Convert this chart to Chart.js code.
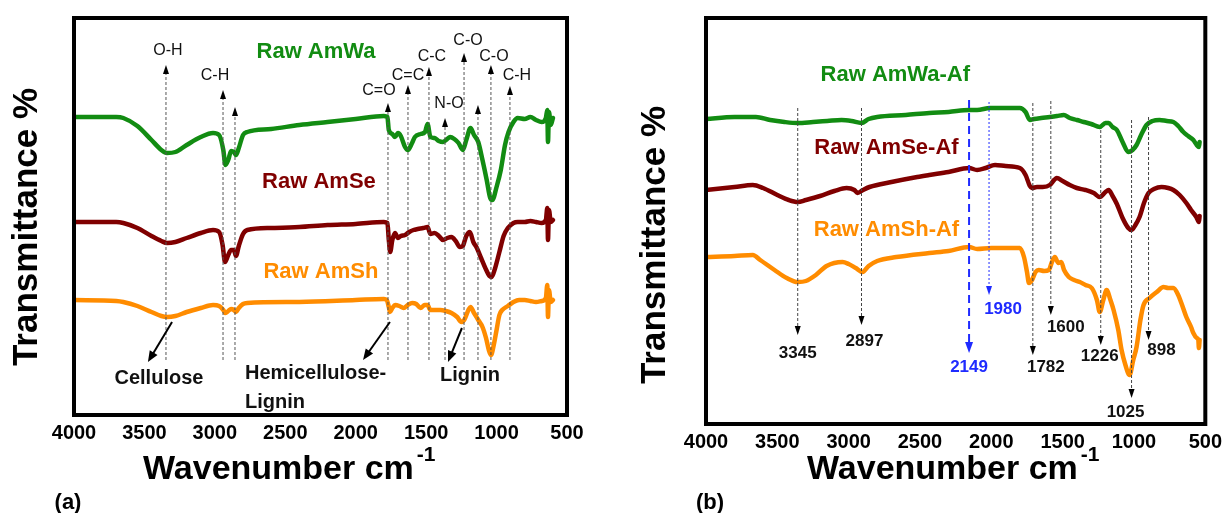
<!DOCTYPE html>
<html>
<head>
<meta charset="utf-8">
<script src="https://cdn.jsdelivr.net/npm/chart.js@4.4.0/dist/chart.umd.min.js"></script>
<style>
  body { margin: 0; background: #fff; width: 1228px; height: 513px; overflow: hidden; position: relative; }
  canvas { position: absolute; top: 0; }
  #chartA { left: 0; }
  #chartB { left: 620px; }
</style>
</head>
<body>
<canvas id="chartA" width="610" height="513"></canvas>
<canvas id="chartB" width="608" height="513"></canvas>
<script>
// ---- panel (a): raw fibres, [wavenumber, transmittance (a.u.)] ----
const rawAmWa = [[4000,298],[3700,298],[3650,297],[3550,289],[3450,275],[3380,265],[3340,262],[3280,263],[3200,270],[3100,278],[3013,282],[2970,280],[2940,265],[2925,250],[2905,255],[2885,264],[2865,263],[2850,260],[2830,267],[2800,280],[2770,283],[2600,286],[2400,290],[2200,293],[2000,296],[1800,299],[1775,298],[1765,285],[1740,281],[1721,278],[1700,282],[1680,279],[1650,268],[1630,265],[1600,272],[1580,278],[1540,281],[1508,283],[1490,291],[1470,278],[1440,277],[1410,274],[1380,273],[1350,276],[1330,278],[1300,276],[1270,272],[1240,265],[1215,275],[1185,287],[1160,280],[1130,273],[1100,255],[1070,235],[1045,217],[1030,215],[1000,228],[970,245],[940,270],[915,283],[880,293],[850,297],[800,296],[760,298],[720,295],[680,293],[650,297],[640,305],[635,273],[628,303],[615,290],[600,297]];
const rawAmSe = [[4000,193],[3700,193],[3650,192],[3550,187],[3450,179],[3380,174],[3340,172],[3280,173],[3200,177],[3100,182],[3013,185],[2970,183],[2945,170],[2928,153],[2905,160],[2885,165],[2865,165],[2850,159],[2830,169],[2800,181],[2770,185],[2600,187],[2400,188],[2200,190],[2000,191],[1800,193],[1775,192],[1765,175],[1755,163],[1740,175],[1721,182],[1700,177],[1680,179],[1650,180],[1620,183],[1590,185],[1560,186],[1520,187],[1490,188],[1470,181],[1440,182],[1410,179],[1380,175],[1350,177],[1320,178],[1290,174],[1260,168],[1240,169],[1215,179],[1190,183],[1165,173],[1140,167],[1110,157],[1080,147],[1050,139],[1035,138],[1010,147],[980,163],[950,179],[920,187],[880,192],[850,193],[800,193],[760,194],[720,193],[680,192],[650,195],[640,207],[635,175],[628,205],[615,193],[600,195]];
const rawAmSh = [[4000,115],[3700,114],[3650,113],[3550,109],[3450,103],[3380,99],[3340,98],[3280,99],[3200,103],[3100,107],[3013,110],[2970,109],[2940,105],[2925,102],[2905,104],[2885,106],[2865,105],[2850,103],[2830,107],[2800,111],[2770,112],[2400,113],[2000,115],[1800,116],[1780,115],[1765,108],[1757,103],[1740,107],[1720,110],[1690,109],[1660,107],[1630,110],[1600,112],[1570,111],[1540,107],[1510,110],[1490,110],[1470,105],[1440,105],[1400,105],[1360,104],[1320,102],[1280,98],[1250,93],[1230,95],[1200,105],[1185,108],[1160,102],[1130,95],[1100,88],[1075,77],[1055,65],[1040,60],[1020,70],[1000,85],[980,100],[960,105],[920,109],[880,113],[840,115],[800,115],[760,114],[720,113],[680,114],[650,117],[640,130],[635,98],[628,125],[615,113],[600,115]];

// band assignments in (a)
const bandWaveA = [3347, 2942, 2857, 1771, 1629, 1480, 1366, 1231, 1132, 1040, 905];
const bandTipA  = [350, 325, 308, 312, 330, 348, 297, 362, 310, 350, 329];
const bandNameA = ["O-H", "C-H", "", "C=O", "C=C", "C-C", "N-O", "C-O", "", "C-O", "C-H"];
const bandBaseA = 55;
const groupArrowA = [[3304, 93, 3475, 53], [1757, 93, 1948, 55], [1246, 87, 1345, 53]];

// ---- panel (b): alkali treated fibres ----
const rawAmWaAf = [[4000,305],[3800,307],[3650,307],[3550,304],[3450,302],[3357,301],[3250,302],[3150,303],[3050,304],[2980,303],[2910,301],[2860,305],[2800,307],[2600,309],[2435,311],[2300,312],[2156,314],[2100,314],[2009,316],[1900,316],[1800,316],[1760,312],[1730,304],[1700,305],[1650,306],[1590,307],[1540,308],[1492,309],[1450,306],[1400,304],[1352,302],[1300,300],[1240,297],[1200,301],[1178,301],[1150,297],[1120,294],[1080,282],[1040,272],[1010,274],[982,279],[950,289],[912,299],[870,303],[821,304],[770,303],[724,302],[690,298],[654,292],[620,288],[584,284],[560,279],[545,277],[540,282]];
const rawAmSeAf = [[4000,234],[3800,237],[3672,239],[3600,236],[3500,229],[3420,224],[3357,222],[3300,224],[3200,228],[3100,233],[3015,236],[2960,234],[2938,231],[2900,234],[2854,237],[2700,242],[2519,247],[2435,249],[2300,252],[2156,256],[2100,254],[2040,256],[1974,259],[1900,258],[1800,256],[1760,249],[1730,238],[1716,236],[1680,237],[1640,237],[1590,239],[1560,244],[1541,246],[1500,243],[1450,239],[1401,236],[1340,234],[1282,231],[1240,227],[1200,232],[1178,234],[1150,228],[1120,220],[1080,206],[1040,196],[1017,194],[990,199],[961,207],[930,221],[898,231],[860,235],[807,237],[760,236],[724,234],[680,229],[633,221],[600,214],[563,207],[545,202],[540,208]];
const rawAmShAf = [[4000,167],[3800,168],[3672,169],[3620,164],[3520,154],[3434,146],[3357,142],[3300,143],[3230,149],[3155,158],[3043,162],[3000,160],[2950,156],[2903,152],[2860,158],[2800,163],[2666,167],[2435,171],[2300,173],[2156,177],[2100,175],[2000,176],[1900,176],[1800,176],[1771,167],[1750,152],[1736,141],[1715,144],[1690,152],[1667,154],[1630,153],[1597,154],[1575,162],[1555,167],[1530,161],[1510,162],[1490,154],[1457,147],[1420,144],[1380,142],[1340,139],[1296,136],[1260,124],[1240,112],[1215,124],[1192,134],[1165,124],[1143,114],[1110,94],[1087,74],[1060,59],[1031,49],[1005,64],[982,77],[955,104],[933,119],[891,126],[840,132],[793,137],[760,136],[724,136],[690,129],[668,121],[633,107],[600,97],[584,91],[560,86],[549,84],[545,76],[540,84]];

// marked peaks in (b)
const peakWaveB = [3357, 2910, 2156, 2016, 1709, 1583, 1233, 1017, 898];
const peakTopB  = [316, 316, 324, 322, 321, 323, 294, 304, 307];
const peakTipB  = [89, 99, 71, 129, 69, 109, 79, 26, 84];
const peakNameB = ["3345", "2897", "2149", "1980", "1782", "1600", "1226", "1025", "898"];

const xTicks = [4000, 3500, 3000, 2500, 2000, 1500, 1000, 500];

const GREEN = "#128c12", BROWN = "#800000", ORANGE = "#ff8c00", BLUE = "#1f2bff";
const FONT = "'Liberation Sans', Arial, sans-serif";

// label nudges (px) relative to arrow tips
const bandShiftA = [[2,-14],[-8,-14],[0,0],[-9,-12],[0,-9],[3,-10],[4,-14],[4,-12],[0,0],[3,-8],[7,-10]];
const peakShiftB = [[0,18],[3,16],[0,14],[14,14],[13,12],[15,12],[-1,11],[-6,14],[13,10]];
const peakStyleB = ["k","k","dash","dot","k","k","k","k","k"];

function head(ctx, x, y, ang, len, wid, color) {
    ctx.save();
    ctx.translate(x, y);
    ctx.rotate(ang);
    ctx.fillStyle = color;
    ctx.beginPath();
    ctx.moveTo(0, 0);
    ctx.lineTo(-len, wid / 2);
    ctx.lineTo(-len, -wid / 2);
    ctx.closePath();
    ctx.fill();
    ctx.restore();
}

function text(ctx, str, x, y, size, weight, color, align) {
    ctx.font = weight + " " + size + "px " + FONT;
    ctx.fillStyle = color;
    ctx.textAlign = align || "center";
    ctx.textBaseline = "middle";
    ctx.fillText(str, x, y);
}

function axisTitles(ctx, cfg) {
    // y title
    ctx.save();
    ctx.translate(cfg.yTitle[0], cfg.yTitle[1]);
    ctx.rotate(-Math.PI / 2);
    text(ctx, "Transmittance %", 0, 0, 35, "bold", "#000");
    ctx.restore();
    // x title with superscript
    text(ctx, "Wavenumber cm", cfg.xTitle[0], cfg.xTitle[1], 34, "bold", "#000", "left");
    const w = ctx.measureText("Wavenumber cm").width;
    text(ctx, "-1", cfg.xTitle[0] + w + 3, cfg.xTitle[1] - 15, 21, "bold", "#000", "left");
    text(ctx, cfg.tag, cfg.tagPos[0], cfg.tagPos[1], 22, "bold", "#000");
}

function frame(ctx, ca) {
    ctx.save();
    ctx.strokeStyle = "#000";
    ctx.lineWidth = 4;
    ctx.strokeRect(ca.left, ca.top, ca.right - ca.left, ca.bottom - ca.top);
    ctx.restore();
}

const decorA = {
    id: "decorA",
    afterDraw(chart) {
        const ctx = chart.ctx, xs = chart.scales.x, ys = chart.scales.y;
        ctx.save();
        // dotted band lines with up arrows
        bandWaveA.forEach((wn, i) => {
            const x = xs.getPixelForValue(wn);
            const yb = ys.getPixelForValue(bandBaseA), yt = ys.getPixelForValue(bandTipA[i]);
            ctx.strokeStyle = "#555";
            ctx.lineWidth = 1;
            ctx.setLineDash([3, 2]);
            ctx.beginPath();
            ctx.moveTo(x, yb);
            ctx.lineTo(x, yt + 6);
            ctx.stroke();
            ctx.setLineDash([]);
            head(ctx, x, yt, -Math.PI / 2, 9, 6, "#000");
            if (bandNameA[i]) {
                text(ctx, bandNameA[i], x + bandShiftA[i][0], yt + bandShiftA[i][1], 16, "normal", "#111");
            }
        });
        // solid group arrows
        groupArrowA.forEach(a => {
            const x1 = xs.getPixelForValue(a[0]), y1 = ys.getPixelForValue(a[1]);
            const x2 = xs.getPixelForValue(a[2]), y2 = ys.getPixelForValue(a[3]);
            const ang = Math.atan2(y2 - y1, x2 - x1);
            ctx.strokeStyle = "#000";
            ctx.lineWidth = 2;
            ctx.beginPath();
            ctx.moveTo(x1, y1);
            ctx.lineTo(x2 - Math.cos(ang) * 8, y2 - Math.sin(ang) * 8);
            ctx.stroke();
            head(ctx, x2, y2, ang, 11, 9, "#000");
        });
        text(ctx, "Cellulose", xs.getPixelForValue(3397), ys.getPixelForValue(37), 20, "bold", "#111");
        text(ctx, "Hemicellulose-", xs.getPixelForValue(2786), ys.getPixelForValue(42), 20, "bold", "#111", "left");
        text(ctx, "Lignin", xs.getPixelForValue(2786), ys.getPixelForValue(13), 20, "bold", "#111", "left");
        text(ctx, "Lignin", xs.getPixelForValue(1189), ys.getPixelForValue(40), 20, "bold", "#111");
        // series names
        text(ctx, "Raw AmWa", xs.getPixelForValue(2282), ys.getPixelForValue(363), 22, "bold", GREEN);
        text(ctx, "Raw AmSe", xs.getPixelForValue(2261), ys.getPixelForValue(233), 22, "bold", BROWN);
        text(ctx, "Raw AmSh", xs.getPixelForValue(2247), ys.getPixelForValue(143), 22, "bold", ORANGE);
        frame(ctx, chart.chartArea);
        axisTitles(ctx, { yTitle: [27, 227], xTitle: [143, 470], tag: "(a)", tagPos: [68, 503] });
        ctx.restore();
    }
};

const decorB = {
    id: "decorB",
    afterDraw(chart) {
        const ctx = chart.ctx, xs = chart.scales.x, ys = chart.scales.y;
        ctx.save();
        peakWaveB.forEach((wn, i) => {
            const x = xs.getPixelForValue(wn);
            const yt = ys.getPixelForValue(peakTopB[i]), yb = ys.getPixelForValue(peakTipB[i]);
            const st = peakStyleB[i];
            const col = st === "k" ? "#444" : BLUE;
            ctx.strokeStyle = col;
            ctx.lineWidth = st === "dash" ? 2 : 1;
            ctx.setLineDash(st === "dash" ? [8, 5] : st === "dot" ? [2, 2] : [3, 2]);
            ctx.beginPath();
            ctx.moveTo(x, yt);
            ctx.lineTo(x, yb - 6);
            ctx.stroke();
            ctx.setLineDash([]);
            head(ctx, x, yb, Math.PI / 2, st === "dash" ? 11 : 9, st === "dash" ? 8 : 6, st === "k" ? "#000" : BLUE);
            text(ctx, peakNameB[i], x + peakShiftB[i][0], yb + peakShiftB[i][1], 17, "bold", st === "k" ? "#111" : BLUE);
        });
        text(ctx, "Raw AmWa-Af", xs.getPixelForValue(2673), ys.getPixelForValue(349), 22, "bold", GREEN);
        text(ctx, "Raw AmSe-Af", xs.getPixelForValue(2735), ys.getPixelForValue(276), 22, "bold", BROWN);
        text(ctx, "Raw AmSh-Af", xs.getPixelForValue(2735), ys.getPixelForValue(194), 22, "bold", ORANGE);
        frame(ctx, chart.chartArea);
        axisTitles(ctx, { yTitle: [35, 245], xTitle: [187, 470], tag: "(b)", tagPos: [90, 503] });
        ctx.restore();
    }
};

function lineSet(points, color) {
    return {
        data: points.map(p => ({ x: p[0], y: p[1] })),
        borderColor: color,
        borderWidth: 4.5,
        pointRadius: 0,
        cubicInterpolationMode: "monotone",
        borderCapStyle: "round",
        borderJoinStyle: "round",
        fill: false
    };
}

function makeChart(id, series, yMax, pad, axisH, plugin) {
    return new Chart(document.getElementById(id), {
        type: "line",
        data: { datasets: series },
        options: {
            responsive: false,
            animation: false,
            layout: { padding: pad },
            plugins: { legend: { display: false }, tooltip: { enabled: false } },
            scales: {
                x: {
                    type: "linear",
                    reverse: true,
                    min: 500,
                    max: 4000,
                    afterBuildTicks: s => { s.ticks = xTicks.map(v => ({ value: v })); },
                    afterFit: s => { s.height = axisH; },
                    ticks: {
                        autoSkip: false,
                        maxRotation: 0,
                        padding: 6,
                        color: "#000",
                        font: { family: FONT, size: 20, weight: "bold" },
                        callback: v => String(v)
                    },
                    grid: { display: false, drawTicks: false },
                    border: { display: false }
                },
                y: { display: false, min: 0, max: yMax }
            }
        },
        plugins: [plugin]
    });
}

makeChart("chartA",
    [lineSet(rawAmWa, GREEN), lineSet(rawAmSe, BROWN), lineSet(rawAmSh, ORANGE)],
    397, { left: 74, top: 18, right: 43, bottom: 0 }, 98, decorA);

makeChart("chartB",
    [lineSet(rawAmWaAf, GREEN), lineSet(rawAmSeAf, BROWN), lineSet(rawAmShAf, ORANGE)],
    406, { left: 86, top: 18, right: 21, bottom: 0 }, 89, decorB);
</script>
</body>
</html>
